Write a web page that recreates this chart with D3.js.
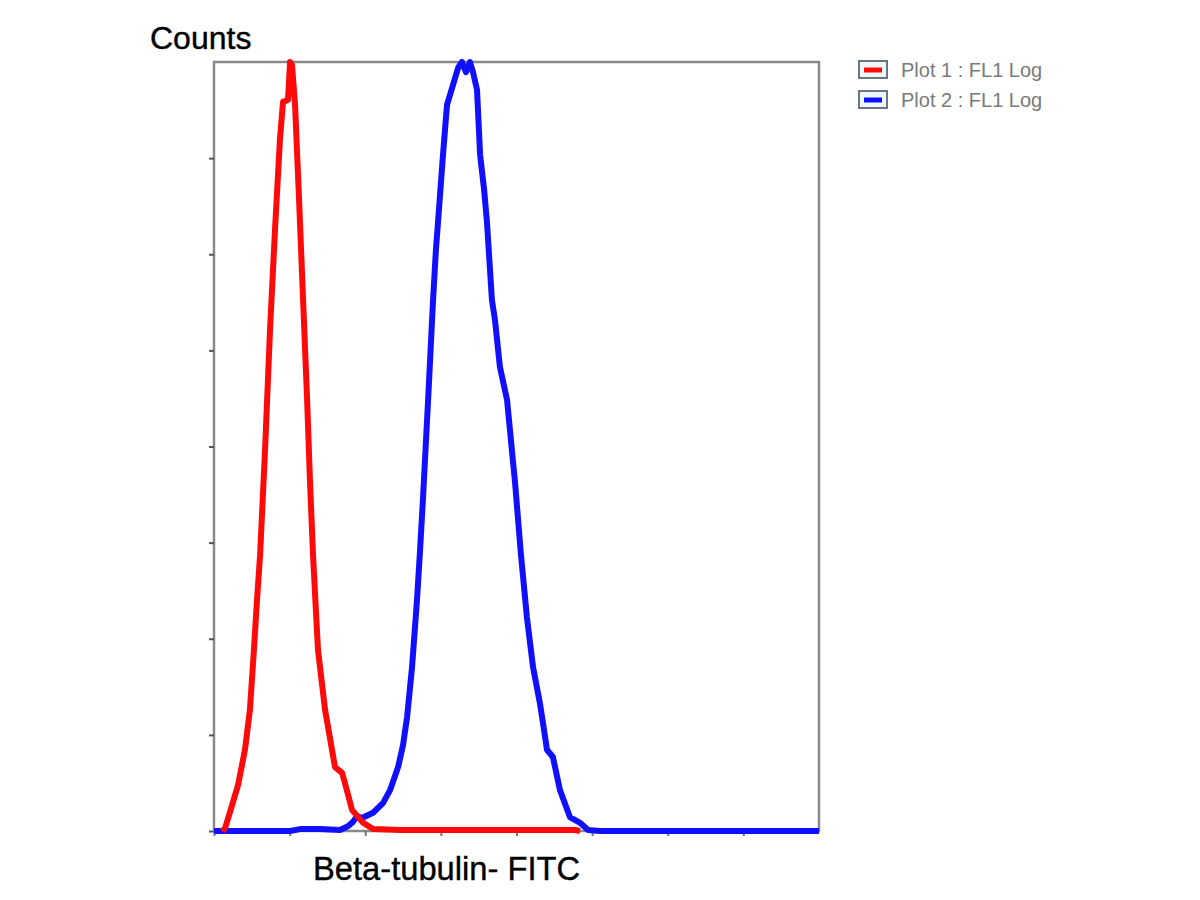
<!DOCTYPE html>
<html>
<head>
<meta charset="utf-8">
<script src="https://cdn.jsdelivr.net/npm/d3@7"></script>
<style>
  html, body { margin: 0; padding: 0; background: #fff; }
  svg { display: block; }
</style>
</head>
<body>
<svg id="chart" width="1200" height="900"></svg>
<script>
// ---- data (channel on FL1 log axis, counts) ----
const redX = [3.4, 4.7, 6.8, 10.2, 13.1, 15.2, 16.9, 18.2, 19.5, 21.6, 23.7, 25.8, 27.9, 29.2, 31.3, 32.2, 33.0, 34.3, 36.0, 37.7, 39.4, 40.6, 41.9, 44.0, 47.0, 51.2, 54.2, 55.4, 58.4, 63.1, 67.3, 78.7, 121.0, 152.8, 154.9];
const redY = [0, 0.6, 4.0, 9.6, 16.9, 25.2, 37.7, 48.1, 57.4, 79.3, 104.2, 125.0, 143.8, 151.7, 152.1, 160, 159.4, 151.1, 131.3, 110.5, 89.7, 73.0, 57.4, 37.7, 25.2, 13.3, 12.1, 10.0, 4.4, 1.7, 0.4, 0.2, 0.2, 0.2, 0];

const blueX = [0, 32.2, 36.4, 44.9, 53.3, 56.7, 58.8, 60.5, 62.6, 67.3, 71.5, 74.5, 77.9, 80.0, 81.7, 83.8, 85.9, 87.2, 88.4, 90.6, 92.7, 93.9, 94.8, 96.9, 98.6, 101.1, 103.3, 104.9, 106.6, 108.3, 109.6, 111.3, 112.6, 114.3, 115.5, 117.6, 118.9, 121.0, 124.0, 127.4, 129.9, 132.4, 135.0, 137.9, 139.2, 140.9, 143.4, 146.4, 150.6, 154.9, 158.3, 163.3, 256];
const blueY = [0, 0, 0.4, 0.4, 0.2, 1.0, 1.9, 3.1, 2.7, 3.8, 5.8, 8.5, 13.3, 17.9, 23.7, 34.1, 48.1, 58.5, 68.9, 89.7, 110.5, 120.9, 126.7, 140.7, 151.1, 155.2, 158.8, 160, 157.9, 160, 157.9, 154.2, 140.7, 133.4, 126.7, 110.5, 106.3, 96.5, 89.7, 72.4, 57.4, 44.5, 34.1, 26.6, 22.5, 16.9, 15.4, 8.5, 2.9, 1.7, 0.2, 0, 0];

const xTicks = [0, 32, 64, 96, 128, 160, 192, 224];
const yTicks = [0, 20, 40, 60, 80, 100, 120, 140];

const legendLabels = ["Plot 1 : FL1 Log", "Plot 2 : FL1 Log"];
const seriesColors = ["#ff0a0a", "#1010ff"];

const yTitle = "Counts";
const xTitle = "Beta-tubulin- FITC";

// ---- layout ----
const svg = d3.select("#chart");
const L = 214, T = 62, R = 819, B = 831;
const x = d3.scaleLinear().domain([0, 256]).range([L, R]);
const y = d3.scaleLinear().domain([0, 160]).range([B, T]);

// plot frame
svg.append("rect")
  .attr("x", L).attr("y", T).attr("width", R - L).attr("height", B - T)
  .attr("fill", "#fff").attr("stroke", "#8a8a8a").attr("stroke-width", 2.5);

// axes ticks
const yAxis = d3.axisLeft(y).tickValues(yTicks).tickSize(5).tickFormat("");
const gy = svg.append("g").attr("transform", `translate(${L},0)`).call(yAxis);
gy.select(".domain").remove();
gy.selectAll("line").attr("stroke", "#555").attr("stroke-width", 2);

const xAxis = d3.axisBottom(x).tickValues(xTicks).tickSize(5).tickFormat("");
const gx = svg.append("g").attr("transform", `translate(0,${B})`).call(xAxis);
gx.select(".domain").remove();
gx.selectAll("line").attr("stroke", "#777").attr("stroke-width", 2);

// curves
const line = d3.line().x(d => x(d[0])).y(d => y(d[1]));
const blueData = blueX.map((v, i) => [v, blueY[i]]);
const redData = redX.map((v, i) => [v, redY[i]]);

svg.append("path").datum(blueData)
  .attr("d", line).attr("fill", "none")
  .attr("stroke", seriesColors[1]).attr("stroke-width", 6)
  .attr("stroke-linejoin", "round");
svg.append("path").datum(redData)
  .attr("d", line).attr("fill", "none")
  .attr("stroke", seriesColors[0]).attr("stroke-width", 6)
  .attr("stroke-linejoin", "round");

// titles
svg.append("text").attr("x", 150).attr("y", 49)
  .attr("font-family", "Liberation Sans, Arial, sans-serif")
  .attr("font-size", 32).attr("fill", "#000")
  .attr("stroke", "#000").attr("stroke-width", 0.4).text(yTitle);
svg.append("text").attr("x", 313).attr("y", 880)
  .attr("font-family", "Liberation Sans, Arial, sans-serif")
  .attr("font-size", 32.7).attr("fill", "#000")
  .attr("stroke", "#000").attr("stroke-width", 0.4).text(xTitle);

// legend
const lg = svg.append("g");
legendLabels.forEach((lab, i) => {
  const yy = 61 + i * 30;
  lg.append("rect").attr("x", 859).attr("y", yy).attr("width", 28).attr("height", 17)
    .attr("fill", "#eef7f7").attr("stroke", "#6b7585").attr("stroke-width", 2);
  lg.append("line").attr("x1", 864).attr("x2", 882).attr("y1", yy + 9).attr("y2", yy + 9)
    .attr("stroke", seriesColors[i]).attr("stroke-width", 5);
  lg.append("text").attr("x", 901).attr("y", yy + 16)
    .attr("font-family", "Liberation Sans, Arial, sans-serif")
    .attr("font-size", 20).attr("fill", "#7a7a7a").text(lab);
});
</script>
</body>
</html>
